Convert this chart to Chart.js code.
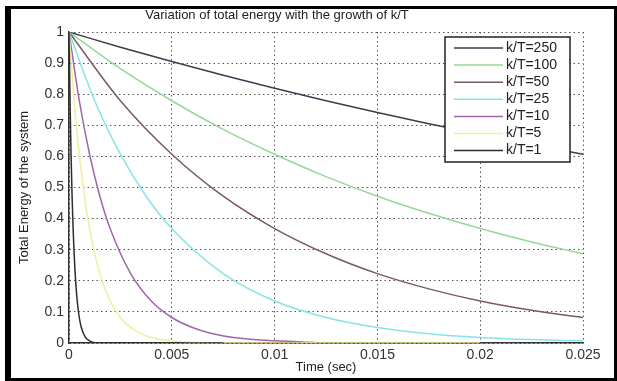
<!DOCTYPE html>
<html lang="en">
<head>
    <meta charset="UTF-8"/>
    <title>Variation of total energy with the growth of k/T</title>
    <script src="https://cdn.jsdelivr.net/npm/chart.js"></script>
    <style>
        html, body { margin: 0; padding: 0; background: #fff; }
        .wrap { position: relative; width: 617px; height: 381px; }
    </style>
</head>
<body>
<div class="wrap">
    <canvas id="graficoEnergia" width="617" height="381"></canvas>
</div>

<script>
    // Series names, in legend order
    const seriesLabels = ['k/T=250', 'k/T=100', 'k/T=50', 'k/T=25', 'k/T=10', 'k/T=5', 'k/T=1'];
    const seriesColors = ['#3c3c4e', '#96d896', '#7a5a62', '#88e4e4', '#a066aa', '#efef9c', '#2e2e2e'];

    // Time samples (sec) and energy
    const tSlow = [0, 0.0025, 0.005, 0.0075, 0.01, 0.0125, 0.015, 0.0175, 0.02, 0.0225, 0.025];
    const e250 = [1, 0.951, 0.905, 0.861, 0.819, 0.779, 0.741, 0.705, 0.670, 0.638, 0.607];
    const e100 = [1, 0.882, 0.779, 0.687, 0.607, 0.535, 0.472, 0.417, 0.368, 0.325, 0.287];
    const e50 = [1, 0.779, 0.607, 0.472, 0.368, 0.287, 0.223, 0.174, 0.135, 0.105, 0.082];

    const t25 = [0, 0.00125, 0.0025, 0.00375, 0.005, 0.0075, 0.01, 0.0125, 0.015, 0.0175, 0.02, 0.0225, 0.025];
    const e25 = [1, 0.779, 0.607, 0.472, 0.368, 0.223, 0.135, 0.082, 0.050, 0.030, 0.018, 0.011, 0.007];

    const t10 = [0, 0.0005, 0.001, 0.0015, 0.002, 0.003, 0.004, 0.005, 0.006, 0.007, 0.008, 0.01, 0.012];
    const e10 = [1, 0.779, 0.607, 0.472, 0.368, 0.223, 0.135, 0.082, 0.050, 0.030, 0.018, 0.007, 0.002];

    const t5 = [0, 0.00025, 0.0005, 0.00075, 0.001, 0.0015, 0.002, 0.0025, 0.003, 0.0035, 0.004, 0.005, 0.006, 0.008, 0.01, 0.02];
    const e5 = [1, 0.779, 0.607, 0.472, 0.368, 0.223, 0.135, 0.082, 0.050, 0.030, 0.018, 0.007, 0.002, 0, 0, 0];

    const t1 = [0, 0.00005, 0.0001, 0.00015, 0.0002, 0.0003, 0.0004, 0.0005, 0.0006, 0.0008, 0.001, 0.0012, 0.0015, 0.002, 0.0075];
    const e1 = [1, 0.779, 0.607, 0.472, 0.368, 0.223, 0.135, 0.082, 0.050, 0.018, 0.007, 0.002, 0.001, 0, 0];

    const seriesTimes = [tSlow, tSlow, tSlow, t25, t10, t5, t1];
    const seriesValues = [e250, e100, e50, e25, e10, e5, e1];

    // Axis ticks
    const xTickValues = [0, 0.005, 0.01, 0.015, 0.02, 0.025];
    const xTickLabels = ['0', '0.005', '0.01', '0.015', '0.02', '0.025'];
    const yTickValues = [0, 0.1, 0.2, 0.3, 0.4, 0.5, 0.6, 0.7, 0.8, 0.9, 1];
    const yTickLabels = ['0', '0.1', '0.2', '0.3', '0.4', '0.5', '0.6', '0.7', '0.8', '0.9', '1'];

    const tituloGrafico = 'Variation of total energy with the growth of k/T';
    const fonte = '"Liberation Sans", Arial, sans-serif';

    const datasets = seriesLabels.map((label, i) => ({
        label: label,
        data: seriesTimes[i].map((t, j) => ({ x: t, y: seriesValues[i][j] })),
        borderColor: seriesColors[i],
        backgroundColor: seriesColors[i],
        borderWidth: 1.5,
        pointRadius: 0,
        cubicInterpolationMode: 'monotone',
        order: seriesLabels.length - i   // last series on top, like the original
    }));

    // legend box drawn inside the plot, top right, with a border
    const legendaCaixa = {
        id: 'legendaCaixa',
        afterDatasetsDraw(chart) {
            const ctx = chart.ctx;
            const area = chart.chartArea;
            const w = 125, h = 125;
            const x = area.right - 13 - w;
            const y = area.top + 5;
            ctx.save();
            ctx.fillStyle = '#fff';
            ctx.fillRect(x, y, w, h);
            ctx.strokeStyle = '#222';
            ctx.lineWidth = 1.5;
            ctx.strokeRect(x, y, w, h);
            ctx.font = '14px ' + fonte;
            ctx.textBaseline = 'middle';
            seriesLabels.forEach((label, i) => {
                const ly = y + 11 + i * 17.1;
                ctx.strokeStyle = seriesColors[i];
                ctx.lineWidth = 1.5;
                ctx.beginPath();
                ctx.moveTo(x + 9, ly);
                ctx.lineTo(x + 58, ly);
                ctx.stroke();
                ctx.fillStyle = '#222';
                ctx.fillText(label, x + 61, ly);
            });
            ctx.restore();
        }
    };

    // white background, title (sits a bit left of centre in the original) and black picture frame
    const moldura = {
        id: 'moldura',
        beforeDraw(chart) {
            const ctx = chart.ctx;
            ctx.save();
            ctx.fillStyle = '#fff';
            ctx.fillRect(0, 0, chart.width, chart.height);
            ctx.restore();
        },
        afterDraw(chart) {
            const ctx = chart.ctx;
            ctx.save();
            ctx.fillStyle = '#222';
            ctx.font = '13px ' + fonte;
            ctx.textAlign = 'center';
            ctx.textBaseline = 'middle';
            ctx.fillText(tituloGrafico, 277, 15);
            ctx.fillStyle = '#000';
            ctx.fillRect(5, 6, 612, 3);
            ctx.fillRect(5, 6, 6, 375);
            ctx.fillRect(614, 6, 3, 375);
            ctx.fillRect(5, 378, 612, 3);
            ctx.restore();
        }
    };

    const config = {
        type: 'line',
        data: { datasets: datasets },
        options: {
            responsive: false,
            animation: false,
            layout: { padding: { left: 12, right: 34, top: 32, bottom: 4 } },
            plugins: {
                legend: { display: false },
                tooltip: { enabled: false },
                title: { display: false }
            },
            scales: {
                x: {
                    type: 'linear',
                    min: 0,
                    max: 0.025,
                    afterFit: s => { s.height = 34; },
                    afterBuildTicks: s => { s.ticks = xTickValues.map(v => ({ value: v })); },
                    ticks: {
                        color: '#333',
                        padding: 4,
                        maxRotation: 0,
                        font: { family: fonte, size: 14 },
                        callback: (v, i) => xTickLabels[i]
                    },
                    grid: { color: '#555', lineWidth: 1, drawTicks: false },
                    border: { display: true, color: '#333', width: 1.5, dash: [1.5, 3] },
                    title: {
                        display: true,
                        text: 'Time (sec)',
                        color: '#222',
                        font: { family: fonte, size: 13 },
                        padding: { top: 0, bottom: 2 }
                    }
                },
                y: {
                    min: 0,
                    max: 1,
                    afterFit: s => { s.width = 57; },
                    afterBuildTicks: s => { s.ticks = yTickValues.map(v => ({ value: v })); },
                    ticks: {
                        color: '#333',
                        padding: 5,
                        font: { family: fonte, size: 14 },
                        callback: (v, i) => yTickLabels[i]
                    },
                    grid: { color: '#555', lineWidth: 1, drawTicks: false },
                    border: { display: true, color: '#333', width: 1.5, dash: [1.5, 3] },
                    title: {
                        display: true,
                        text: 'Total Energy of the system',
                        color: '#222',
                        font: { family: fonte, size: 13 },
                        padding: { top: 5, bottom: 0 }
                    }
                }
            }
        },
        plugins: [moldura, legendaCaixa]
    };

    const ctx = document.getElementById('graficoEnergia').getContext('2d');
    new Chart(ctx, config);
</script>
</body>
</html>
